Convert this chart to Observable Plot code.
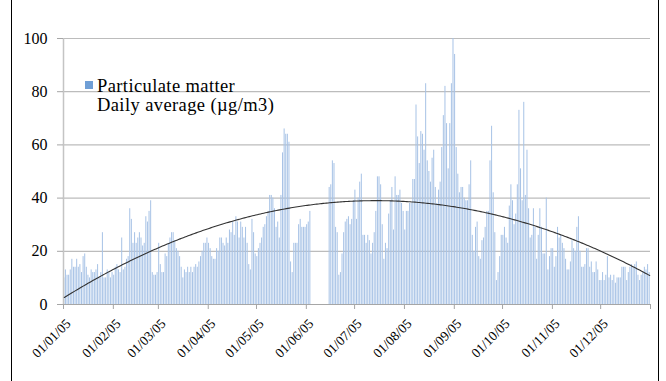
<!DOCTYPE html>
<html><head><meta charset="utf-8">
<script src="https://cdn.jsdelivr.net/npm/d3@7"></script>
<script src="https://cdn.jsdelivr.net/npm/@observablehq/plot@0.6"></script>
<style>
body{margin:0;background:#fff;}
#wrap{position:relative;width:666px;height:381px;font-family:"Liberation Serif",serif;overflow:hidden;}
#frame{position:absolute;left:11px;top:-2px;width:648px;height:385px;border-left:1px solid #000;border-right:1px solid #000;box-sizing:border-box;}
#legend{position:absolute;left:85px;top:77px;font-size:18.5px;line-height:18.5px;letter-spacing:0.4px;color:#000;}
#legend .sw{position:absolute;left:0;top:4px;width:8px;height:8px;background:#6f9fd6;}
#legend .tx{margin-left:12px;white-space:nowrap;height:18.5px;}
</style></head><body>
<div id="wrap"><div id="chart"></div><div id="frame"></div>
<div id="legend"><div class="sw"></div><div class="tx" id="l1"></div><div class="tx" id="l2"></div></div></div>
<script>
const jan=[10,13,11,11,13,17,14,14,17,14,15,12,18,19,14,11,10,13,12,12,13,15,10,12,27,10,10,13,12,10,12];
const feb=[11,14,15,13,12,25,13,14,17,18,36,32,23,27,23,25,27,25,22,23,33,31,35,39,12,11,11,12];
const mar=[23,15,12,12,19,18,23,25,27,27,24,21,20,18,14,10,13,12,14,12,14,12,14,15,14,16,18,20,23,23,25];
const apr=[23,21,18,17,17,21,20,25,25,23,22,25,23,28,27,31,26,33,31,25,31,29,25,29,23,15,13,32,27,19];
const may=[18,21,23,25,29,30,33,35,41,41,40,36,29,31,25,41,57,66,64,64,61,16,12,23,23,23,30,32,29,29,29];
const jun=[30,31,35,null,null,null,null,null,null,null,null,null,null,null,44,45,54,53,29,27,11,12,19,27,31,32,33,30,32,39];
const jul=[43,32,40,46,49,26,26,23,26,24,19,23,27,35,48,48,45,30,17,23,21,34,39,44,28,48,41,41,43,38,35];
const aug=[28,35,35,38,38,47,47,75,63,53,65,64,58,83,54,50,46,55,58,44,38,43,46,59,71,82,68,51,68,83,100];
const sep=[94,59,49,42,44,44,40,39,39,45,54,26,20,29,31,18,17,24,25,29,35,35,54,67,42,27,9,12,18,26];
const oct=[26,29,25,23,37,45,39,30,34,45,73,51,39,76,41,58,36,25,26,36,29,17,26,36,29,19,19,40,13,18,21];
const nov=[21,14,18,29,25,26,23,21,17,13,13,16,24,21,20,29,33,20,14,14,15,21,21,14,16,12,12,16,13,9];
const dec=[9,12,9,11,18,10,11,9,11,8,10,10,10,14,14,14,9,12,14,15,14,15,16,11,9,11,12,14,13,15,12];
const monthLabels=["01/01/05","01/02/05","01/03/05","01/04/05","01/05/05","01/06/05","01/07/05","01/08/05","01/09/05","01/10/05","01/11/05","01/12/05"];
const yTicks=[0,20,40,60,80,100];
const legendLines=["Particulate matter","Daily average (µg/m3)"];

document.getElementById("l1").textContent=legendLines[0];
document.getElementById("l2").textContent=legendLines[1];

const months=[jan,feb,mar,apr,may,jun,jul,aug,sep,oct,nov,dec];
const DAY=864e5, T0=Date.UTC(2005,0,1);
const data=[];
months.forEach((arr,m)=>arr.forEach((v,i)=>{
  const date=new Date(Date.UTC(2005,m,i+1));
  data.push({date, day:Math.round((date-T0)/DAY), value:v});
}));
const valid=data.filter(d=>d.value!=null);

// least-squares quadratic trend (as the spreadsheet trendline)
const c=182, s=100;
const S=[0,0,0,0,0], R=[0,0,0];
for(const d of valid){const t=(d.day-c)/s;let p=1;for(let k=0;k<5;k++){S[k]+=p;if(k<3)R[k]+=p*d.value;p*=t;}}
const M=[[S[0],S[1],S[2],R[0]],[S[1],S[2],S[3],R[1]],[S[2],S[3],S[4],R[2]]];
for(let i=0;i<3;i++){for(let j=i+1;j<3;j++){const f=M[j][i]/M[i][i];for(let k=i;k<4;k++)M[j][k]-=f*M[i][k];}}
const a=[0,0,0];
for(let i=2;i>=0;i--){let v=M[i][3];for(let k=i+1;k<3;k++)v-=M[i][k]*a[k];a[i]=v/M[i][i];}
const trend=data.map(d=>{const t=(d.day-c)/s;return {date:new Date(T0+(d.day+0.5)*DAY),value:a[0]+a[1]*t+a[2]*t*t};});

const xTicks=d3.utcMonth.range(new Date(T0),new Date(Date.UTC(2006,0,2)));
const x0=new Date(T0), x1=new Date(Date.UTC(2006,0,1));

const chart=Plot.plot({
  width:666,height:381,
  marginLeft:63,marginRight:16,marginTop:38,marginBottom:77,
  style:{fontFamily:"'Liberation Serif',serif",fontSize:"14px",color:"#000",background:"transparent",overflow:"visible"},
  x:{type:"utc",domain:[x0,x1]},
  y:{domain:[0,100]},
  marks:[
    Plot.ruleY(yTicks.slice(1),{stroke:"#bcbcbc",strokeWidth:1.2}),
    Plot.rectY(valid,{x1:"date",x2:d=>new Date(+d.date+DAY),y:"value",fill:"#a8c3e6",insetLeft:0.3,insetRight:0.3}),
    Plot.ruleY([0],{stroke:"#a6a6a6",strokeWidth:1.2}),
    Plot.ruleX([x0],{stroke:"#c4c4c4",strokeWidth:1.5,y1:0,y2:100}),
    Plot.line(trend,{x:"date",y:"value",stroke:"#333",strokeWidth:1.1}),
    Plot.axisY(yTicks,{tickSize:6,tickPadding:10,stroke:"#a6a6a6",fill:"#000",fontSize:16,label:null}),
    Plot.axisX(xTicks,{tickSize:5,tickPadding:5,stroke:"#a6a6a6",fill:"#000",fontSize:13.5,tickRotate:-45,label:null,
      tickFormat:d=>d.getUTCFullYear()===2005?monthLabels[d.getUTCMonth()]:""})
  ]
});
const xl=chart.querySelector('g[aria-label="x-axis tick label"]');
if(xl){const t=xl.getAttribute("transform")||"";xl.setAttribute("transform",("translate(5,7) "+t).trim());}
document.getElementById("chart").appendChild(chart);
</script>
</body></html>
